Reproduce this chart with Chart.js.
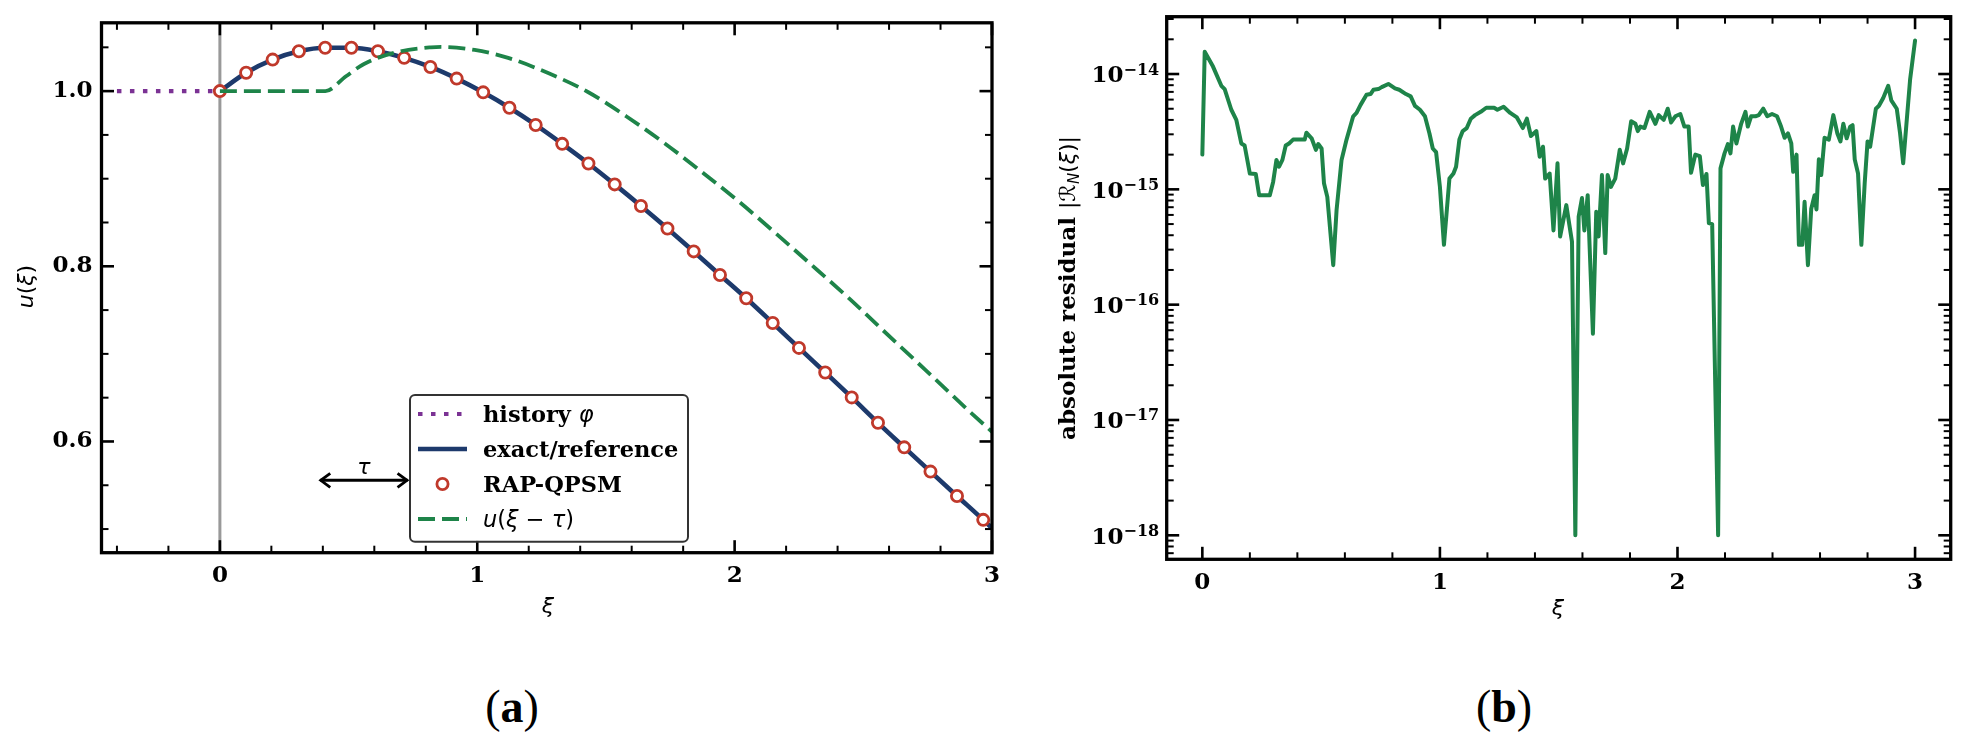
<!DOCTYPE html>
<html>
<head>
<meta charset="utf-8">
<script src="https://cdn.jsdelivr.net/npm/chart.js@4.4.1/dist/chart.umd.min.js"></script>
<style>
    body { margin: 0; background: #fff; width: 1967px; height: 750px; position: relative; overflow: hidden; }
    canvas { position: absolute; top: 0; }
    #chartA { left: 0; }
    #chartB { left: 1010px; }
    .panel-label { position: absolute; top: 684px; font-family: 'Liberation Serif', serif; font-size: 46px; line-height: 1; transform: translateX(-50%); }
</style>
</head>
<body>
<canvas id="chartA" width="1010" height="640"></canvas>
<canvas id="chartB" width="957" height="640"></canvas>
<div class="panel-label" style="left:512px">(<b>a</b>)</div>
<div class="panel-label" style="left:1504px">(<b>b</b>)</div>
<script>
// ---- Panel (a): solution u(xi) ----
const historyXi = [-0.4, 0];
const historyU = [1.0, 1.0];

// RAP-QPSM nodes (circles)
const nodeXi = [0, 0.102, 0.205, 0.307, 0.409, 0.511, 0.614, 0.716, 0.818, 0.920,
    1.023, 1.125, 1.227, 1.330, 1.432, 1.534, 1.636, 1.739, 1.841, 1.943,
    2.045, 2.148, 2.250, 2.352, 2.455, 2.557, 2.659, 2.761, 2.864, 2.966];
const nodeU = [1.000, 1.021, 1.036, 1.0455, 1.0495, 1.0495, 1.0455, 1.038, 1.0276, 1.0143,
    0.9986, 0.981, 0.9614, 0.9398, 0.9174, 0.8935, 0.8689, 0.8432, 0.8170, 0.7901,
    0.7635, 0.7352, 0.7068, 0.6788, 0.6503, 0.6213, 0.5933, 0.5656, 0.5378, 0.5105];

// exact/reference curve
const refXi = [0, 0.102, 0.205, 0.307, 0.409, 0.511, 0.614, 0.716, 0.818, 0.920,
    1.023, 1.125, 1.227, 1.330, 1.432, 1.534, 1.636, 1.739, 1.841, 1.943,
    2.045, 2.148, 2.250, 2.352, 2.455, 2.557, 2.659, 2.761, 2.864, 2.966, 3.0];
const refU = [1.000, 1.021, 1.036, 1.0455, 1.0495, 1.0495, 1.0455, 1.038, 1.0276, 1.0143,
    0.9986, 0.981, 0.9614, 0.9398, 0.9174, 0.8935, 0.8689, 0.8432, 0.8170, 0.7901,
    0.7635, 0.7352, 0.7068, 0.6788, 0.6503, 0.6213, 0.5933, 0.5656, 0.5378, 0.5105, 0.501];

// delayed curve u(xi - tau)
const shiftXi = [0, 0.41, 0.49, 0.56, 0.68, 0.82, 0.86, 0.99, 1.12, 1.28, 1.43, 1.58,
    1.73, 1.88, 2.02, 2.17, 2.32, 2.45, 2.54, 2.74, 2.91, 3.0];
const shiftU = [1.0, 1.0, 1.017, 1.031, 1.044, 1.050, 1.0505, 1.047, 1.038, 1.020, 0.999, 0.971,
    0.940, 0.906, 0.873, 0.835, 0.796, 0.762, 0.737, 0.682, 0.635, 0.611];

const xTicksA = [0, 1, 2, 3];
const yTicksA = [0.6, 0.8, 1.0];

// ---- Panel (b): absolute residual ----
const resXi = [0, 0.01, 0.045, 0.08, 0.094, 0.122, 0.143, 0.164, 0.178, 0.2,
    0.225, 0.239, 0.284, 0.298, 0.312, 0.323, 0.337, 0.351, 0.365, 0.382,
    0.431, 0.438, 0.46, 0.478, 0.488, 0.502, 0.512, 0.526, 0.551, 0.565,
    0.586, 0.607, 0.635, 0.649, 0.666, 0.691, 0.708, 0.72, 0.741, 0.755,
    0.783, 0.811, 0.829, 0.857, 0.877, 0.895, 0.916, 0.937, 0.956, 0.97,
    0.984, 1.0, 1.017, 1.04, 1.057, 1.068, 1.082, 1.096, 1.113, 1.13,
    1.148, 1.172, 1.195, 1.228, 1.242, 1.268, 1.296, 1.324, 1.349, 1.366,
    1.383, 1.406, 1.42, 1.434, 1.443, 1.462, 1.478, 1.495, 1.506, 1.532,
    1.556, 1.570, 1.584, 1.598, 1.608, 1.622, 1.644, 1.658, 1.668, 1.682,
    1.696, 1.706, 1.72, 1.738, 1.757, 1.771, 1.788, 1.805, 1.823, 1.833,
    1.844, 1.861, 1.883, 1.907, 1.921, 1.942, 1.959, 1.973, 1.991, 2.012,
    2.029, 2.047, 2.057, 2.075, 2.094, 2.107, 2.122, 2.132, 2.146, 2.171,
    2.181, 2.198, 2.212, 2.223, 2.234, 2.248, 2.268, 2.286, 2.296, 2.31,
    2.328, 2.342, 2.361, 2.378, 2.398, 2.419, 2.436, 2.451, 2.465, 2.479,
    2.487, 2.501, 2.511, 2.525, 2.535, 2.549, 2.563, 2.577, 2.585, 2.595,
    2.605, 2.619, 2.637, 2.656, 2.673, 2.686, 2.698, 2.712, 2.727, 2.737,
    2.746, 2.76, 2.774, 2.788, 2.8, 2.811, 2.835, 2.848, 2.866, 2.887,
    2.9, 2.923, 2.937, 2.95, 2.979, 3.0];
const resVal = [2.0e-15, 1.56e-14, 1.16e-14, 7.9e-15, 7.4e-15, 4.9e-15, 4.0e-15, 2.5e-15, 2.4e-15, 1.37e-15,
    1.36e-15, 8.9e-16, 8.9e-16, 1.16e-15, 1.8e-15, 1.57e-15, 1.8e-15, 2.4e-15, 2.5e-15, 2.7e-15,
    2.7e-15, 3.1e-15, 2.77e-15, 2.2e-15, 2.47e-15, 2.26e-15, 1.13e-15, 8.6e-16, 2.2e-16, 6.6e-16,
    1.8e-15, 2.7e-15, 4.3e-15, 4.6e-15, 5.4e-15, 6.6e-15, 6.7e-15, 7.3e-15, 7.4e-15, 7.7e-15,
    8.2e-15, 7.5e-15, 7.3e-15, 6.7e-15, 6.4e-15, 5.3e-15, 4.9e-15, 4.3e-15, 3.05e-15, 2.26e-15,
    2.1e-15, 1.05e-15, 3.3e-16, 1.24e-15, 1.37e-15, 1.57e-15, 2.7e-15, 3.2e-15, 3.4e-15, 4.1e-15,
    4.4e-15, 4.7e-15, 5.1e-15, 5.1e-15, 4.9e-15, 5.2e-15, 4.6e-15, 4.2e-15, 3.4e-15, 4.1e-15,
    2.9e-15, 3.2e-15, 1.92e-15, 2.34e-15, 1.24e-15, 1.37e-15, 4.4e-16, 1.68e-15, 3.9e-16, 7.3e-16,
    3.5e-16, 1.0e-18, 5.8e-16, 8.4e-16, 4.4e-16, 8.9e-16, 5.6e-17, 6.4e-16, 3.9e-16, 1.33e-15,
    2.8e-16, 1.33e-15, 1.05e-15, 1.24e-15, 2.2e-15, 1.68e-15, 2.26e-15, 3.9e-15, 3.7e-15, 3.2e-15,
    3.5e-15, 3.4e-15, 4.7e-15, 3.7e-15, 4.4e-15, 4.0e-15, 5.0e-15, 3.8e-15, 4.3e-15, 4.5e-15,
    3.5e-15, 3.5e-15, 1.39e-15, 2.0e-15, 1.94e-15, 1.09e-15, 1.36e-15, 5.1e-16, 5.0e-16, 1.0e-18,
    1.52e-15, 2.05e-15, 2.47e-15, 2.05e-15, 3.5e-15, 2.5e-15, 3.7e-15, 4.7e-15, 3.5e-15, 4.3e-15,
    4.3e-15, 4.4e-15, 5.0e-15, 4.3e-15, 4.5e-15, 4.3e-15, 3.5e-15, 2.8e-15, 3.06e-15, 2.5e-15,
    1.42e-15, 2.0e-15, 3.3e-16, 3.3e-16, 7.8e-16, 2.2e-16, 6.8e-16, 8.9e-16, 6.7e-16, 1.82e-15,
    1.33e-15, 2.8e-15, 2.7e-15, 4.4e-15, 3.05e-15, 2.6e-15, 3.7e-15, 2.77e-15, 3.5e-15, 3.6e-15,
    1.82e-15, 1.37e-15, 3.3e-16, 1.13e-15, 2.6e-15, 2.34e-15, 5.0e-15, 5.3e-15, 6.2e-15, 7.9e-15,
    5.9e-15, 5.0e-15, 3.05e-15, 1.68e-15, 8.9e-15, 1.95e-14];

const xTicksB = [0, 1, 2, 3];
const yExpB = [-18, -17, -16, -15, -14];

// colours
const PURPLE = '#7b3294';
const NAVY = '#1d3a6c';
const RED = '#c0392b';
const GREEN = '#1e8449';

const TICK_FONT = { family: 'DejaVu Serif', weight: 'bold', size: 23 };
const SERIF_B = 'bold 23px "DejaVu Serif"';
const MATH_I = 'italic 22px "DejaVu Sans"';
const MATH_R = '22px "DejaVu Sans"';
const LEG_B = 'bold 22.5px "DejaVu Serif"';
const LEG_I = 'italic 22.5px "DejaVu Sans"';
const LEG_R = '22.5px "DejaVu Sans"';

const pts = (xs, ys) => xs.map((x, i) => ({ x, y: ys[i] }));

function drawRich(ctx, segs, x, y, align) {
    let w = 0;
    segs.forEach(s => { ctx.font = s[1]; w += ctx.measureText(s[0]).width; });
    let cx = align === 'center' ? x - w / 2 : (align === 'right' ? x - w : x);
    ctx.textAlign = 'left';
    ctx.textBaseline = 'alphabetic';
    segs.forEach(s => {
        ctx.font = s[1];
        ctx.fillText(s[0], cx, y + (s[2] || 0));
        cx += ctx.measureText(s[0]).width;
    });
}

function steps(from, to, step, skip) {
    const out = [];
    for (let v = from; v <= to + 1e-9; v += step) {
        const r = Math.round(v * 1000) / 1000;
        if (!skip.some(s => Math.abs(s - r) < 1e-6)) out.push(r);
    }
    return out;
}

// Box + inward ticks on all four sides
const framePlugin = {
    id: 'frame',
    afterDatasetsDraw(chart, args, opts) {
        const { ctx, chartArea: a } = chart;
        const xs = chart.scales.x, ys = chart.scales.y;
        ctx.save();
        ctx.strokeStyle = '#000';
        const seg = (x1, y1, x2, y2, w) => {
            ctx.lineWidth = w;
            ctx.beginPath(); ctx.moveTo(x1, y1); ctx.lineTo(x2, y2); ctx.stroke();
        };
        const inX = v => v >= xs.min && v <= xs.max;
        const inY = v => v >= ys.min && v <= ys.max;
        opts.xMinor.filter(inX).forEach(v => {
            const p = xs.getPixelForValue(v);
            seg(p, a.bottom, p, a.bottom - 7, 2); seg(p, a.top, p, a.top + 7, 2);
        });
        opts.xMajor.filter(inX).forEach(v => {
            const p = xs.getPixelForValue(v);
            seg(p, a.bottom, p, a.bottom - 12.5, 2.6); seg(p, a.top, p, a.top + 12.5, 2.6);
        });
        opts.yMinor.filter(inY).forEach(v => {
            const p = ys.getPixelForValue(v);
            seg(a.left, p, a.left + 7, p, 2); seg(a.right, p, a.right - 7, p, 2);
        });
        opts.yMajor.filter(inY).forEach(v => {
            const p = ys.getPixelForValue(v);
            seg(a.left, p, a.left + 12.5, p, 2.6); seg(a.right, p, a.right - 12.5, p, 2.6);
        });
        ctx.lineWidth = 3.3;
        ctx.strokeRect(a.left, a.top, a.right - a.left, a.bottom - a.top);
        ctx.restore();
    }
};

// Axis titles and free text
const textPlugin = {
    id: 'axisText',
    afterDraw(chart, args, opts) {
        const ctx = chart.ctx;
        ctx.save();
        ctx.fillStyle = '#000';
        opts.items.forEach(it => {
            ctx.save();
            ctx.translate(it.x, it.y);
            if (it.rotate) ctx.rotate(it.rotate);
            drawRich(ctx, it.segs, 0, 0, 'center');
            ctx.restore();
        });
        ctx.restore();
    }
};

// Vertical reference line at xi = 0
const vlinePlugin = {
    id: 'vline',
    beforeDatasetsDraw(chart, args, opts) {
        const { ctx, chartArea: a } = chart;
        const p = chart.scales.x.getPixelForValue(opts.at);
        ctx.save();
        ctx.strokeStyle = opts.color;
        ctx.lineWidth = opts.width;
        ctx.beginPath(); ctx.moveTo(p, a.top); ctx.lineTo(p, a.bottom); ctx.stroke();
        ctx.restore();
    }
};

// Double-headed arrow with tau label
const arrowPlugin = {
    id: 'tauArrow',
    afterDatasetsDraw(chart, args, opts) {
        const ctx = chart.ctx;
        const xs = chart.scales.x, ys = chart.scales.y;
        const x1 = xs.getPixelForValue(opts.from), x2 = xs.getPixelForValue(opts.to);
        const y = ys.getPixelForValue(opts.at);
        ctx.save();
        ctx.strokeStyle = '#000';
        ctx.lineWidth = 2.8;
        ctx.lineCap = 'butt';
        ctx.beginPath(); ctx.moveTo(x1 + 1, y); ctx.lineTo(x2 - 1, y); ctx.stroke();
        ctx.lineJoin = 'miter';
        ctx.beginPath();
        ctx.moveTo(x1 + 11, y - 7); ctx.lineTo(x1 + 1.5, y); ctx.lineTo(x1 + 11, y + 7);
        ctx.moveTo(x2 - 11, y - 7); ctx.lineTo(x2 - 1.5, y); ctx.lineTo(x2 - 11, y + 7);
        ctx.stroke();
        ctx.fillStyle = '#000';
        drawRich(ctx, [['τ', MATH_I]], (x1 + x2) / 2, y - 6, 'center');
        ctx.restore();
    }
};

// Framed legend inside the axes
const legendPlugin = {
    id: 'boxLegend',
    afterDraw(chart, args, o) {
        const ctx = chart.ctx;
        ctx.save();
        ctx.beginPath();
        ctx.roundRect(o.left, o.top, o.width, o.height, 5);
        ctx.fillStyle = 'rgba(255,255,255,0.9)';
        ctx.fill();
        ctx.lineWidth = 2;
        ctx.strokeStyle = '#333';
        ctx.stroke();
        o.rows.forEach((row, i) => {
            const ds = chart.data.datasets.find(d => d.label === row.label);
            const yy = o.top + o.firstRow + i * o.rowGap;
            const hx1 = o.left + 8, hx2 = o.left + 57;
            if (ds.showLine === false) {
                ctx.beginPath();
                ctx.arc((hx1 + hx2) / 2, yy, ds.pointRadius, 0, Math.PI * 2);
                ctx.fillStyle = ds.pointBackgroundColor;
                ctx.fill();
                ctx.lineWidth = ds.pointBorderWidth;
                ctx.strokeStyle = ds.pointBorderColor;
                ctx.stroke();
            } else {
                ctx.setLineDash(ds.borderDash || []);
                ctx.lineCap = 'butt';
                ctx.lineWidth = ds.borderWidth;
                ctx.strokeStyle = ds.borderColor;
                ctx.beginPath(); ctx.moveTo(hx1, yy); ctx.lineTo(hx2, yy); ctx.stroke();
                ctx.setLineDash([]);
            }
            ctx.fillStyle = '#000';
            drawRich(ctx, row.segs, o.left + 73, yy + 7.5, 'left');
        });
        ctx.restore();
    }
};

// Log tick labels 10^k
const logLabelPlugin = {
    id: 'logLabels',
    afterDraw(chart, args, opts) {
        const ctx = chart.ctx;
        const a = chart.chartArea;
        const ys = chart.scales.y;
        ctx.save();
        ctx.fillStyle = '#000';
        opts.exps.forEach(e => {
            const p = ys.getPixelForValue(Math.pow(10, e));
            const sup = '−' + Math.abs(e);
            drawRich(ctx, [['10', SERIF_B, 8.4], [sup, 'bold 16px "DejaVu Serif"', 0.5]], a.left - 7.5, p, 'right');
        });
        ctx.restore();
    }
};

const hideGrid = { display: false, drawTicks: false };

new Chart(document.getElementById('chartA'), {
    type: 'line',
    data: {
        datasets: [{
            label: 'u(ξ − τ)',
            data: pts(shiftXi, shiftU),
            borderColor: GREEN,
            borderWidth: 3.8,
            borderDash: [17, 7],
            pointRadius: 0,
            cubicInterpolationMode: 'monotone',
            order: 0
        }, {
            label: 'RAP-QPSM',
            data: pts(nodeXi, nodeU),
            showLine: false,
            pointRadius: 5.6,
            pointBorderWidth: 2.8,
            pointBorderColor: RED,
            pointBackgroundColor: '#fff',
            order: 1
        }, {
            label: 'exact/reference',
            data: pts(refXi, refU),
            borderColor: NAVY,
            borderWidth: 4.6,
            pointRadius: 0,
            cubicInterpolationMode: 'monotone',
            order: 2
        }, {
            label: 'history φ',
            data: pts(historyXi, historyU),
            borderColor: PURPLE,
            borderWidth: 4.2,
            borderDash: [4.5, 8.5],
            pointRadius: 0,
            order: 3
        }]
    },
    options: {
        responsive: false,
        animation: false,
        layout: { padding: { left: 0, top: 20.5, right: 13, bottom: 0 } },
        plugins: {
            legend: { display: false },
            tooltip: { enabled: false },
            vline: { at: 0, color: '#999999', width: 3 },
            tauArrow: { from: 0.386, to: 0.733, at: 0.5557 },
            frame: {
                xMajor: xTicksA, xMinor: steps(-0.4, 3, 0.2, xTicksA),
                yMajor: yTicksA, yMinor: steps(0.5, 1.05, 0.05, yTicksA)
            },
            boxLegend: {
                left: 410, top: 395, width: 278, height: 146.7, firstRow: 19, rowGap: 35,
                rows: [
                    { label: 'history φ', segs: [['history ', LEG_B], ['φ', LEG_I]] },
                    { label: 'exact/reference', segs: [['exact/reference', LEG_B]] },
                    { label: 'RAP-QPSM', segs: [['RAP-QPSM', LEG_B]] },
                    { label: 'u(ξ − τ)', segs: [['u', LEG_I], ['(', LEG_R], ['ξ', LEG_I], [' − ', LEG_R], ['τ', LEG_I], [')', LEG_R]] }
                ]
            },
            axisText: {
                items: [
                    { x: 548, y: 613, segs: [['ξ', MATH_I]] },
                    { x: 33, y: 286.5, rotate: -Math.PI / 2, segs: [['u', MATH_I], ['(', MATH_R], ['ξ', MATH_I], [')', MATH_R]] }
                ]
            }
        },
        scales: {
            x: {
                type: 'linear', min: -0.46, max: 3,
                grid: hideGrid, border: { display: false },
                ticks: { font: TICK_FONT, color: '#000', padding: 10, maxRotation: 0, autoSkip: false, callback: v => String(v) },
                afterBuildTicks: s => { s.ticks = xTicksA.map(v => ({ value: v })); },
                afterFit: s => { s.height = 87.3; }
            },
            y: {
                type: 'linear', min: 0.473, max: 1.078,
                grid: hideGrid, border: { display: false },
                ticks: { font: TICK_FONT, color: '#000', padding: 9, autoSkip: false, callback: v => v.toFixed(1) },
                afterBuildTicks: s => { s.ticks = yTicksA.map(v => ({ value: v })); },
                afterFit: s => { s.width = 101.5; }
            }
        }
    },
    plugins: [vlinePlugin, framePlugin, arrowPlugin, legendPlugin, textPlugin]
});

new Chart(document.getElementById('chartB'), {
    type: 'line',
    data: {
        datasets: [{
            label: 'residual',
            data: pts(resXi, resVal),
            borderColor: GREEN,
            borderWidth: 4,
            borderJoinStyle: 'round',
            borderCapStyle: 'round',
            pointRadius: 0,
            tension: 0
        }]
    },
    options: {
        responsive: false,
        animation: false,
        layout: { padding: { left: 0, top: 16.7, right: 16.3, bottom: 0 } },
        plugins: {
            legend: { display: false },
            tooltip: { enabled: false },
            frame: {
                xMajor: xTicksB, xMinor: steps(0, 3, 0.2, xTicksB),
                yMajor: yExpB.map(e => Math.pow(10, e)),
                yMinor: [-19, -18, -17, -16, -15, -14].flatMap(e => [2, 3, 4, 5, 6, 7, 8, 9].map(k => k * Math.pow(10, e)))
            },
            logLabels: { exps: yExpB },
            axisText: {
                items: [
                    { x: 548, y: 615, segs: [['ξ', MATH_I]] },
                    {
                        x: 65, y: 288, rotate: -Math.PI / 2,
                        segs: [['absolute residual ', SERIF_B], ['|', MATH_R], ['ℛ', MATH_I], ['N', 'italic 15px "DejaVu Sans"', 4],
                            ['(', MATH_R], ['ξ', MATH_I], [')', MATH_R], ['|', MATH_R]]
                    }
                ]
            }
        },
        scales: {
            x: {
                type: 'linear', min: -0.15, max: 3.15,
                grid: hideGrid, border: { display: false },
                ticks: { font: TICK_FONT, color: '#000', padding: 10, maxRotation: 0, autoSkip: false, callback: v => String(v) },
                afterBuildTicks: s => { s.ticks = xTicksB.map(v => ({ value: v })); },
                afterFit: s => { s.height = 80.7; }
            },
            y: {
                type: 'logarithmic', min: Math.pow(10, -18.208), max: Math.pow(10, -13.503),
                grid: hideGrid, border: { display: false },
                ticks: { display: false },
                afterBuildTicks: s => { s.ticks = yExpB.map(e => ({ value: Math.pow(10, e) })); },
                afterFit: s => { s.width = 156.7; }
            }
        }
    },
    plugins: [framePlugin, logLabelPlugin, textPlugin]
});
</script>
</body>
</html>
